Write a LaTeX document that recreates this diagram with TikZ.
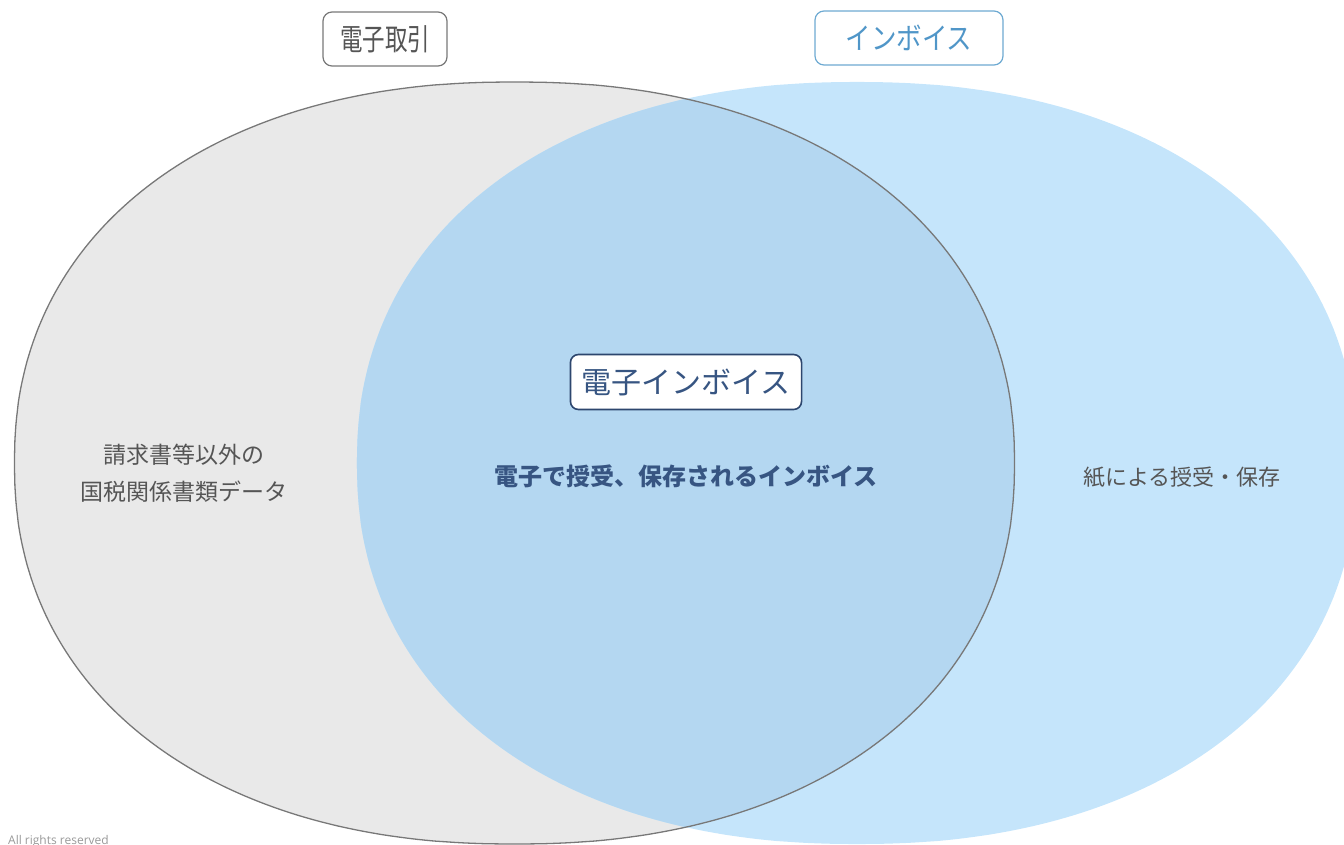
\documentclass[tikz,border=0pt]{standalone}
\usepackage{fontspec}
\usepackage{graphicx}
\newfontfamily\jp{Noto Sans CJK JP}
\newfontfamily\latf{Open Sans}
\definecolor{grayfill}{RGB}{233,233,233}
\definecolor{grayline}{RGB}{120,120,120}
\definecolor{bluefill}{RGB}{197,229,251}
\definecolor{interfill}{RGB}{180,215,241}
\definecolor{textgray}{RGB}{85,85,85}
\definecolor{navy}{RGB}{45,70,110}
\definecolor{navytext}{RGB}{55,85,130}
\definecolor{lblue}{RGB}{110,170,210}
\definecolor{lbluetext}{RGB}{80,150,200}
\tikzset{
  toplabel/.style={draw, rounded corners=9pt, fill=white, line width=1.2pt,
    minimum height=54pt, inner xsep=4pt, font=\jp\fontsize{30}{32}\selectfont},
  areatext/.style={align=center, text=textgray, font=\jp\fontsize{23}{37}\selectfont}
}
\begin{document}
\begin{tikzpicture}[x=1pt,y=-1pt]
\useasboundingbox (0,0) rectangle (1344,844);
% gray shape (electronic transactions)
\fill[grayfill] plot[domain=0.5:359.5,samples=360]
  ({514.5+500*sign(cos(\x))*pow(abs(cos(\x)),0.909)},{463+381*sign(sin(\x))*pow(abs(sin(\x)),0.909)}) -- cycle;
% blue shape (invoices)
\fill[bluefill] plot[domain=0.5:359.5,samples=360]
  ({857+500*sign(cos(\x))*pow(abs(cos(\x)),0.909)},{463+381*sign(sin(\x))*pow(abs(sin(\x)),0.909)}) -- cycle;
% intersection
\begin{scope}
\clip plot[domain=0.5:359.5,samples=360]
  ({514.5+500*sign(cos(\x))*pow(abs(cos(\x)),0.909)},{463+381*sign(sin(\x))*pow(abs(sin(\x)),0.909)}) -- cycle;
\fill[interfill] plot[domain=0.5:359.5,samples=360]
  ({857+500*sign(cos(\x))*pow(abs(cos(\x)),0.909)},{463+381*sign(sin(\x))*pow(abs(sin(\x)),0.909)}) -- cycle;
\end{scope}
% gray outline
\draw[grayline, line width=1.3pt] plot[domain=0.5:359.5,samples=360]
  ({514.5+500*sign(cos(\x))*pow(abs(cos(\x)),0.909)},{463+381*sign(sin(\x))*pow(abs(sin(\x)),0.909)}) -- cycle;

% labels
\node[toplabel, draw=grayline, text=textgray, minimum width=124pt] (denshi) at (385,39) {\scalebox{0.75}[1]{電子取引}};
\node[toplabel, draw=lblue, text=lbluetext, minimum width=188pt] (invoice) at (909,38) {\scalebox{0.85}[1]{インボイス}};
\node[draw=navy, line width=1.6pt, rounded corners=8pt, fill=white, text=navytext,
  minimum height=55pt, inner xsep=11pt, font=\jp\fontsize{30}{32}\selectfont] (einv) at (686,382) {電子インボイス};
\node[text=navytext, font=\jp\bfseries\fontsize{24}{28}\selectfont] (center) at (686,476) {電子で授受、保存されるインボイス};
\node[areatext] (left) at (184,473) {請求書等以外の\\国税関係書類データ};
\node[areatext, font=\jp\fontsize{22}{30}\selectfont] (right) at (1182,477) {紙による授受・保存};
\node[anchor=north west, inner sep=0pt, text=gray!80, font=\latf\fontsize{12}{13}\selectfont] (rights) at (8,835) {All rights reserved};
\end{tikzpicture}
\end{document}
